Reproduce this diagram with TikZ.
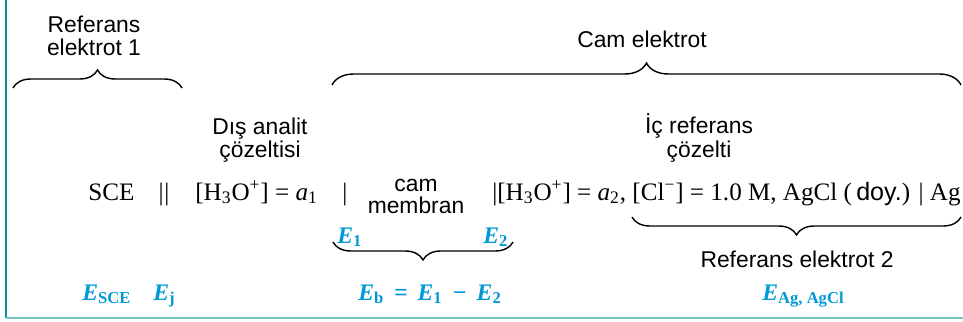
\documentclass[tikz,border=0pt]{standalone}
\usepackage{fontspec}
\setmainfont{Liberation Serif}
\newfontfamily\lblfont{Liberation Sans}
\usepackage{tikz}
\usetikzlibrary{decorations.pathreplacing}
\definecolor{ecyan}{RGB}{0,153,214}
\definecolor{frameteal}{RGB}{0,150,150}
\definecolor{framelight}{RGB}{120,195,195}
\newcommand{\Esub}[1]{E\textsubscript{\upshape #1}}
\tikzset{
  lbl/.style={font=\lblfont\fontsize{13}{12}\selectfont, align=center, inner sep=0pt},
  eqn/.style={font=\fontsize{14.3}{15}\selectfont, inner sep=0pt},
  evar/.style={font=\fontsize{13.5}{14}\selectfont\bfseries\itshape,
    text=ecyan, inner sep=0pt},
  curly/.style={decorate, decoration={brace, amplitude=#1}, line width=0.8pt},
  curly/.default=0.36cm
}

\begin{document}
\begin{tikzpicture}[x=0.02cm, y=-0.02cm]
  \useasboundingbox (0,0) rectangle (963,321);
  % Frame
  \draw[frameteal, line width=1.4pt] (6,0) -- (6,318);
  \draw[framelight, line width=1.6pt] (6,318) -- (963,318);

  % Labels above the cell
  \node[lbl, font=\lblfont\fontsize{13}{13}\selectfont] (ref1) at (94,36) {Referans\\elektrot 1};
  \node[lbl, anchor=base] (glass) at (642,47) {Cam elektrot};
  \node[lbl] (outer) at (260,140) {Dış analit\\çözeltisi};
  \node[lbl] (inner) at (699,138) {İç referans\\çözelti};

  % Cell notation
  \node[eqn, anchor=base west] (sce) at (88,200) {SCE};
  \node[eqn, anchor=base] (junc) at (164,200) {|\kern0.4pt|};
  \node[eqn, anchor=base west] (ext) at (195,200) {[H\textsubscript{3}O\textsuperscript{+}] = \textit{a}\textsubscript{1}};
  \node[eqn, anchor=base] (bar1) at (345,200) {|};
  \node[lbl, font=\lblfont\fontsize{13}{12.5}\selectfont] (memb) at (416,196) {cam\\membran};
  \node[eqn, anchor=base west] (int) at (492,200) {|[H\textsubscript{3}O\textsuperscript{+}] = \textit{a}\textsubscript{2},};
  \node[eqn, anchor=base east] (ref2) at (961,200) {[Cl\textsuperscript{−}] = 1.0 M, AgCl (\,{\lblfont doy.}) | Ag};

  % Braces
  \coordinate (b1l) at (13,88);
  \coordinate (b1r) at (182,88);
  \draw[curly] (b1l) -- (b1r);
  \coordinate (b2l) at (332,85);
  \coordinate (b2r) at (961,85);
  \draw[curly=0.44cm] (b2l) -- (b2r);
  \coordinate (b3l) at (333,242);
  \coordinate (b3r) at (513,242);
  \draw[curly] (b3r) -- (b3l);
  \coordinate (b4l) at (632,217);
  \coordinate (b4r) at (961,217);
  \draw[curly] (b4r) -- (b4l);

  % Potentials
  \node[evar, anchor=base west] (e1) at (337,243) {\Esub{1}};
  \node[evar, anchor=base west] (e2) at (483,243) {\Esub{2}};
  \node[lbl, anchor=base] (ref2lbl) at (797,267) {Referans elektrot 2};
  \node[evar, anchor=base west] (esce) at (82,300) {\Esub{SCE}};
  \node[evar, anchor=base west] (ej) at (153,300) {\Esub{j}};
  \node[evar, anchor=base] (eb) at (430,300) {\Esub{b} \,=\, \Esub{1} \,−\, \Esub{2}};
  \node[evar, anchor=base west] (eag) at (762,300) {\Esub{Ag, AgCl}};
\end{tikzpicture}
\end{document}
